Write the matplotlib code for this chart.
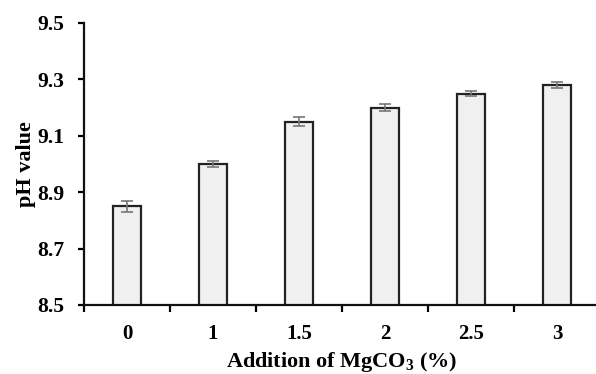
import matplotlib
matplotlib.use("Agg")
import matplotlib.pyplot as plt
import numpy as np

categories = ["0", "1", "1.5", "2", "2.5", "3"]
ph_values = [8.85, 9.00, 9.15, 9.20, 9.25, 9.28]
ph_errors = [0.02, 0.01, 0.015, 0.012, 0.01, 0.01]
y_ticks = [8.5, 8.7, 8.9, 9.1, 9.3, 9.5]

plt.rcParams['font.family'] = ['Liberation Serif', 'DejaVu Serif']
plt.rcParams['font.weight'] = 'bold'
plt.rcParams['mathtext.default'] = 'regular'

fig = plt.figure(figsize=(5.96, 3.74), dpi=100)
ax = fig.add_axes([84/596, 1-305/374, (600-84)/596, (305-23)/374])

x = np.arange(len(categories))
ax.bar(x, ph_values, width=0.33, color='#f0f0f0', edgecolor='#222222', linewidth=1.6,
       yerr=ph_errors, error_kw=dict(ecolor='#777777', elinewidth=1.2, capsize=4, capthick=1.2),
       zorder=2)

ax.set_xlim(-0.5, len(categories) - 0.5)
ax.set_ylim(8.5, 9.5)
ax.set_yticks(y_ticks)
ax.set_yticklabels([f"{v:.1f}" for v in y_ticks], fontsize=15.5, fontweight='bold')
ax.set_xticks(x)
ax.set_xticklabels(categories, fontsize=15, fontweight='bold')
ax.set_xticks(np.arange(-0.5, len(categories), 1.0), minor=True)
ax.tick_params(axis='x', which='major', length=0, pad=14)
ax.tick_params(axis='x', which='minor', length=5, width=1.6, direction='out')
ax.tick_params(axis='y', which='major', length=4, width=1.6, direction='out', pad=10)

for s in ['top', 'right']:
    ax.spines[s].set_visible(False)
for s in ['left', 'bottom']:
    ax.spines[s].set_linewidth(1.6)
    ax.spines[s].set_color('#111111')

ax.set_ylabel("pH value", fontsize=16, fontweight='bold', labelpad=1)
ax.set_xlabel("Addition of MgCO$_{3}$ (%)", fontsize=16, fontweight='bold', labelpad=4)

fig.savefig("out.png", dpi=100)
